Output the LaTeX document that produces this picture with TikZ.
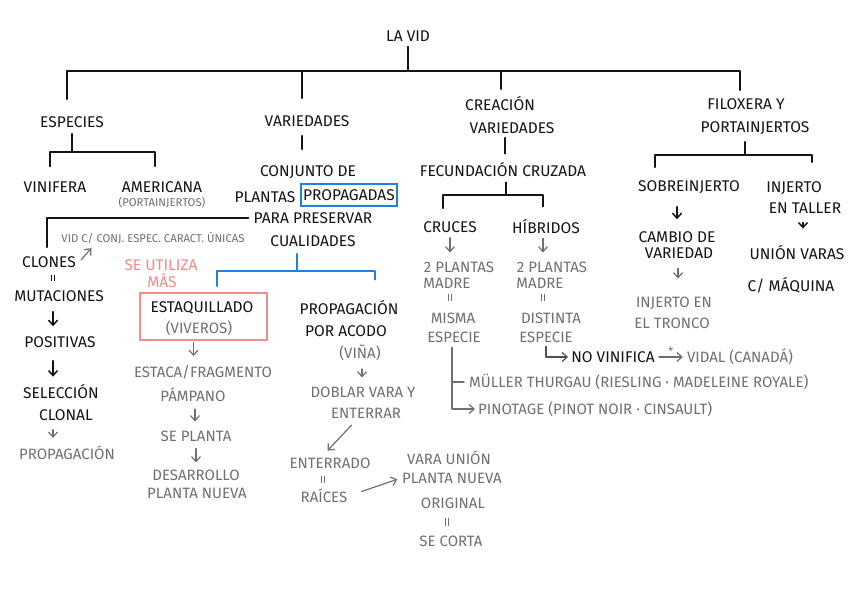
\documentclass[tikz,border=0pt]{standalone}
\usepackage{fontspec}
\setmainfont{Fira Sans}
\usetikzlibrary{arrows.meta}
\definecolor{ink}{HTML}{141414}
\definecolor{gink}{HTML}{707070}
\definecolor{dgink}{HTML}{505050}
\definecolor{pnkc}{HTML}{F28C88}
\definecolor{bluc}{HTML}{1F80E8}
\tikzset{
  blk/.style={inner sep=1pt, align=center, text=ink, font=\fontsize{15.5}{18}\selectfont},
  gry/.style={blk, text=gink, font=\fontsize{15}{17}\selectfont},
  sml/.style={blk, text=gink, font=\fontsize{11.3}{13}\selectfont},
  pnk/.style={blk, text=pnkc},
  bline/.style={draw=ink, line width=1.5pt, line cap=round, line join=round},
  gline/.style={draw=gink, line width=1.2pt, line cap=round, line join=round},
  dgline/.style={draw=dgink, line width=1.2pt, line cap=round, line join=round},
  uline/.style={draw=bluc, line width=1.6pt, line cap=round, line join=round},
  vtip/.style={-{Straight Barb[length=5pt,width=9pt]}},
  barr/.style={bline, vtip},
  garr/.style={gline, vtip},
  eqmark/.style={draw=ink, line width=0.9pt, double=white, double distance=2.4pt},
  geqmark/.style={eqmark, draw=gink},
}
\newcommand\vlink[4]{\coordinate (vlA) at ([xshift=#4]#2.south); \draw[#1] (vlA) -- (vlA|-#3.north);}
\begin{document}
\begin{tikzpicture}[x=1pt,y=-1pt]
\useasboundingbox (0,0) rectangle (848,599);
\fill[white] (0,0) rectangle (848,599);

% ---- top level
\node[blk] (vid) at (408,36) {LA VID};
\node[blk] (esp) at (72,122) {ESPECIES};
\node[blk] (var) at (307,121) {VARIEDADES};
\node[blk] (cre1) at (500,104) {CREACIÓN};
\node[blk] (cre2) at (512,128) {VARIEDADES};
\node[blk] (fil1) at (746,104) {FILOXERA Y};
\node[blk] (fil2) at (755,128) {PORTAINJERTOS};

\coordinate (bar) at (0,71);
\draw[bline, shorten <=4pt] (vid.south) -- (vid.south|-bar);
\coordinate (dE) at ([xshift=-5pt,yshift=16pt]esp.north);
\coordinate (dV) at ([xshift=-5pt,yshift=16pt]var.north);
\coordinate (dC) at ([xshift=1pt,yshift=6.5pt]cre1.north);
\coordinate (dF) at ([xshift=-6pt,yshift=7pt]fil1.north);
\draw[bline] (dE) -- (dE|-bar) -- (dF|-bar) -- (dF);
\draw[bline] (dV) -- (dV|-bar);
\draw[bline] (dC) -- (dC|-bar);

% ---- especies
\node[blk] (vin) at (55,187) {VINIFERA};
\node[blk] (ame) at (162,187) {AMERICANA};
\node[sml] (port) at (162,203) {(PORTAINJERTOS)};
\coordinate (eb) at (0,152);
\draw[bline, shorten <=5pt] (esp.south) -- (esp.south|-eb);
\coordinate (vinT) at ([xshift=-5pt,yshift=14pt]vin.north);
\coordinate (ameT) at ([xshift=-7pt,yshift=14pt]ame.north);
\draw[bline] (vinT) -- (vinT|-eb) -- (ameT|-eb) -- (ameT);

% ---- variedades
\node[blk] (conj) at (308,172) {CONJUNTO DE};
\node[blk] (plan) at (265,197) {PLANTAS};
\node[blk, draw=bluc, line width=1.6pt, minimum width=92pt, minimum height=22pt, inner sep=2pt] (prop) at (349,195) {PROPAGADAS};
\node[blk] (para) at (313,218) {PARA PRESERVAR};
\node[blk] (cual) at (313,241) {CUALIDADES};
\vlink{bline, shorten <=8pt, shorten >=15pt}{var}{conj}{-5pt}

% clones branch
\node[blk] (clon) at (49,262) {CLONES};
\draw[bline] ([xshift=-4pt]para.west) -| ([xshift=-2pt,yshift=8pt]clon.north);
\node[sml] (vidc) at (153,238) {VID C/ CONJ. ESPEC. CARACT. ÚNICAS};
\draw[garr] ([xshift=4pt,yshift=2pt]clon.east) -- ([xshift=31pt,yshift=-3pt]vidc.south west);
\node[blk] (mut) at (59,296) {MUTACIONES};
\node[blk] (pos) at (60,342) {POSITIVAS};
\node[blk] (sel) at (61,392) {SELECCIÓN};
\node[blk] (clonal) at (66,415) {CLONAL};
\node[gry] (propc) at (67,453) {PROPAGACIÓN};
\vlink{eqmark, shorten <=6pt, shorten >=8pt}{clon}{mut}{4pt}
\vlink{barr, shorten <=9pt, shorten >=9pt}{mut}{pos}{-6pt}
\vlink{barr, shorten <=12pt, shorten >=7pt}{pos}{sel}{-7pt}
\vlink{garr, shorten <=8pt, shorten >=7pt}{clonal}{propc}{-13pt}

% se utiliza mas
\node[pnk] (seu) at (161,265) {SE UTILIZA};
\node[pnk] (mas) at (162,281) {MÁS};

% blue bracket
\node[draw=pnkc, line width=1.5pt, minimum width=127pt, minimum height=47pt, inner sep=0pt] (estbox) at (203.5,316.5) {};
\node[blk] (estq) at (202,308) {ESTAQUILLADO};
\node[gry] (viv) at (199,328) {(VIVEROS)};
\node[blk] (propa) at (349,308) {PROPAGACIÓN};
\node[blk] (acodo) at (346,331) {POR ACODO};
\coordinate (bb) at (0,271);
\coordinate (cb) at ([xshift=-16pt,yshift=-6pt]cual.south);
\coordinate (bL) at ([xshift=13.5pt,yshift=6pt]estbox.north);
\coordinate (bR) at ([xshift=26pt,yshift=20pt]propa.north);
\draw[uline] (cb) -- (cb|-bb);
\draw[uline] (bL) -- (bL|-bb) -- (bR|-bb) -- (bR);

% estaquillado chain
\node[gry] (estaca) at (203,372) {ESTACA/FRAGMENTO};
\node[gry] (pamp) at (193,395) {PÁMPANO};
\node[gry] (seplanta) at (196,436) {SE PLANTA};
\node[gry] (desar) at (196,475) {DESARROLLO};
\node[gry] (plnu) at (197,493) {PLANTA NUEVA};
\vlink{garr, shorten <=2pt, shorten >=8pt}{estbox}{estaca}{-10pt}
\vlink{garr, shorten <=6pt, shorten >=8pt}{pamp}{seplanta}{2pt}
\vlink{garr, shorten <=6pt, shorten >=6pt}{seplanta}{desar}{0pt}

% acodo chain
\node[gry] (vina) at (360,353) {(VIÑA)};
\node[gry] (dob) at (363,392) {DOBLAR VARA Y};
\node[gry] (ent) at (366,413) {ENTERRAR};
\node[gry] (entdo) at (330,463) {ENTERRADO};
\node[gry] (rai) at (324,496) {RAÍCES};
\node[gry] (vara) at (449,458) {VARA UNIÓN};
\node[gry] (plnv) at (452,478) {PLANTA NUEVA};
\node[gry] (orig) at (453,503) {ORIGINAL};
\node[gry] (cort) at (451,541) {SE CORTA};
\vlink{garr, shorten <=7pt, shorten >=8pt}{vina}{dob}{2pt}
\draw[garr, shorten <=8pt, shorten >=8pt] ([xshift=-9pt]ent.south) -- ([xshift=-8pt]entdo.north);
\vlink{geqmark, shorten <=6pt, shorten >=5pt}{entdo}{rai}{-7pt}
\draw[garr, shorten <=14pt, shorten >=4pt] (rai.east) -- (plnv.west);
\vlink{geqmark, shorten <=8pt, shorten >=8pt}{orig}{cort}{-6pt}

% ---- creacion variedades
\node[blk] (fec) at (503,170) {FECUNDACIÓN CRUZADA};
\vlink{bline, shorten <=3pt, shorten >=8pt}{cre2}{fec}{-7pt}
\node[blk] (cru) at (450,227) {CRUCES};
\node[blk] (hib) at (546,227) {HÍBRIDOS};
\coordinate (cbar) at (0,195);
\coordinate (fc) at ([xshift=3pt,yshift=-4pt]fec.south);
\coordinate (cL) at ([xshift=-7pt,yshift=12pt]cru.north);
\coordinate (cR) at ([xshift=-3pt,yshift=12pt]hib.north);
\draw[bline] (fc) -- (fc|-cbar);
\draw[bline] (cL) -- (cL|-cbar) -- (cR|-cbar) -- (cR);

\node[gry] (p1) at (459,267) {2 PLANTAS};
\node[gry] (m1) at (447,283) {MADRE};
\node[gry] (mis) at (453,318) {MISMA};
\node[gry] (e1) at (454,337) {ESPECIE};
\node[gry] (p2) at (552,267) {2 PLANTAS};
\node[gry] (m2) at (540,283) {MADRE};
\node[gry] (dis) at (551,318) {DISTINTA};
\node[gry] (e2) at (546,337) {ESPECIE};
\vlink{garr, shorten <=4pt, shorten >=8pt}{cru}{p1}{0pt}
\vlink{garr, shorten <=3pt, shorten >=8pt}{hib}{p2}{-3pt}
\vlink{geqmark, shorten <=5pt, shorten >=10pt}{m1}{mis}{3pt}
\vlink{geqmark, shorten <=5pt, shorten >=10pt}{m2}{dis}{3pt}

\node[blk] (novin) at (613,357) {NO VINIFICA};
\node[gry] (vidal) at (740,357) {VIDAL (CANADÁ)};
\coordinate (bv) at ([yshift=-3pt]e2.south);
\draw[dgline, vtip, shorten >=2pt] (bv) |- (novin.west);
\draw[garr, shorten <=3pt, shorten >=3pt] (novin.east) -- node[sml, above, inner sep=0.5pt] (ast) {*} (vidal.west);

\node[gry, anchor=west] (mull) at (468,382) {MÜLLER THURGAU (RIESLING · MADELEINE ROYALE)};
\node[gry, anchor=west] (pino) at (477,409) {PINOTAGE (PINOT NOIR · CINSAULT)};
\coordinate (gv) at ([xshift=-2pt,yshift=-4pt]e1.south);
\draw[garr, shorten >=2pt] (gv) |- (pino.west);
\draw[gline] (gv|-mull.west) -- ([xshift=-4pt]mull.west);

% ---- filoxera
\node[blk] (sob) at (689,187) {SOBREINJERTO};
\node[blk] (camb) at (677,237) {CAMBIO DE};
\node[blk] (var2) at (679,253) {VARIEDAD};
\node[gry] (injt1) at (674,303) {INJERTO EN};
\node[gry] (injt2) at (672,323) {EL TRONCO};
\node[blk] (inj) at (794,188) {INJERTO};
\node[blk] (tall) at (805,208) {EN TALLER};
\node[blk] (union) at (797,253) {UNIÓN VARAS};
\node[blk] (maq) at (791,285) {C/ MÁQUINA};
\coordinate (fb) at (0,155);
\coordinate (fv) at ([xshift=-10pt,yshift=-6pt]fil2.south);
\coordinate (fL) at ([xshift=-34pt,yshift=12pt]sob.north);
\coordinate (fR) at ([xshift=18pt,yshift=18pt]inj.north);
\draw[bline] (fv) -- (fv|-fb);
\draw[bline] (fL) -- (fL|-fb) -- (fR|-fb) -- (fR);
\vlink{barr, shorten <=12pt, shorten >=11pt}{sob}{camb}{-12pt}
\vlink{garr, shorten <=9pt, shorten >=17pt}{var2}{injt1}{-1pt}
\vlink{barr, shorten <=8pt, shorten >=16pt}{tall}{union}{-2pt}
\end{tikzpicture}
\end{document}
